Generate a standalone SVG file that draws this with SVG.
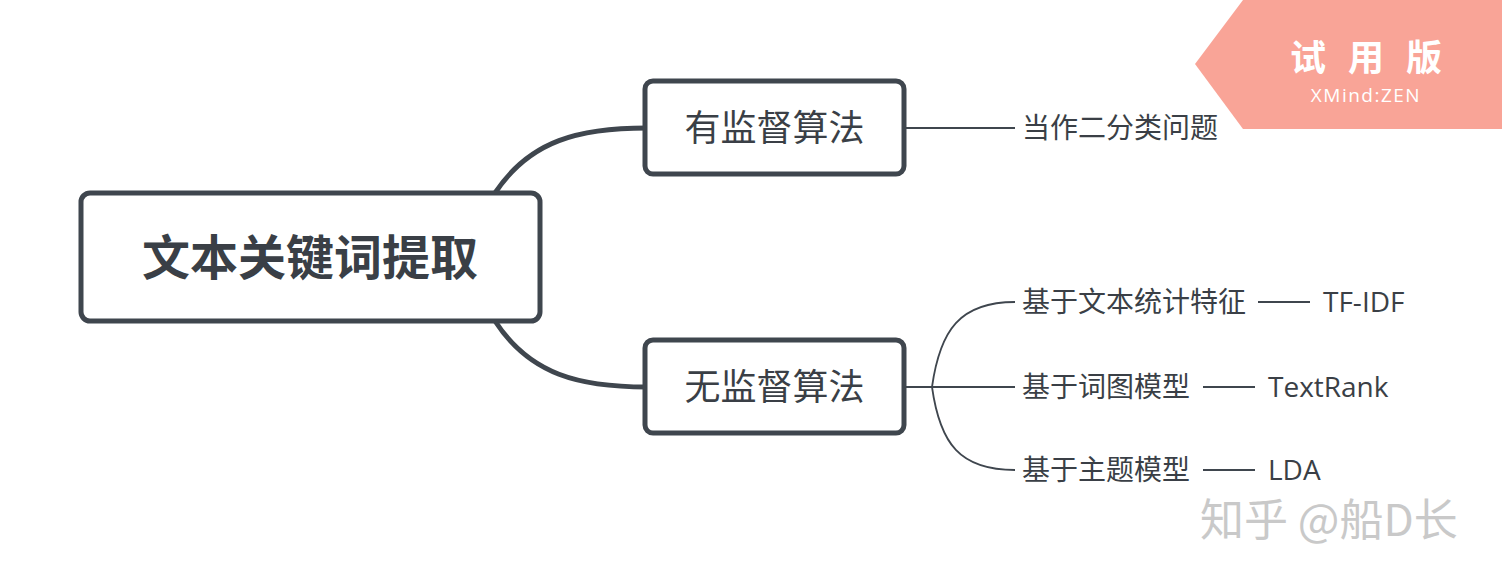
<svg xmlns="http://www.w3.org/2000/svg" width="1502" height="582" viewBox="0 0 1502 582">
<style>
.box{fill:#fff;stroke:#3f464e;stroke-width:5}
.t{font-family:"Noto Sans CJK SC","Noto Sans",sans-serif;fill:#3a3f46}
.lat{font-family:"Open Sans","Noto Sans CJK SC",sans-serif;fill:#3a3f46}
.thick{fill:none;stroke:#3f464e;stroke-width:5}
.thin{fill:none;stroke:#3f464e;stroke-width:1.8}
</style>
<rect width="1502" height="582" fill="#fff"/>
<g id="connectors">
<path class="thick" d="M495,193 C530,140 580,128 647,128"/>
<path class="thick" d="M495,321 C530,375 580,387 647,387"/>
<path class="thin" d="M904,128 L1015,128"/>
<path class="thin" d="M904,387 L1015,387"/>
<path class="thin" d="M932,387 C940,330 960,302 1015,302"/>
<path class="thin" d="M932,387 C940,444 960,470 1015,470"/>
<path class="thin" d="M1258,302 L1310,302"/>
<path class="thin" d="M1203,387 L1255,387"/>
<path class="thin" d="M1203,470 L1255,470"/>
</g>
<g id="root">
<rect class="box" x="81" y="193" width="459" height="128" rx="9"/>
<text class="t" x="310" y="275" font-size="48" font-weight="bold" text-anchor="middle">文本关键词提取</text>
</g>
<g id="supervised">
<rect class="box" x="645" y="81" width="259" height="93" rx="8"/>
<text class="t" x="774.5" y="141" font-size="36" text-anchor="middle">有监督算法</text>
</g>
<g id="unsupervised">
<rect class="box" x="645" y="340" width="259" height="93" rx="8"/>
<text class="t" x="774.5" y="400" font-size="36" text-anchor="middle">无监督算法</text>
</g>
<g id="binary">
<text class="t" x="1022" y="138" font-size="28">当作二分类问题</text>
</g>
<g id="stat">
<text class="t" x="1022" y="312" font-size="28">基于文本统计特征</text>
</g>
<g id="tfidf">
<text class="lat" x="1323" y="312" font-size="28">TF-IDF</text>
</g>
<g id="graph">
<text class="t" x="1022" y="397" font-size="28">基于词图模型</text>
</g>
<g id="textrank">
<text class="lat" x="1268" y="397" font-size="28">TextRank</text>
</g>
<g id="topic">
<text class="t" x="1022" y="480" font-size="28">基于主题模型</text>
</g>
<g id="lda">
<text class="lat" x="1268" y="480" font-size="28">LDA</text>
</g>
<g id="trial-banner">
<polygon points="1195,64 1243,0 1502,0 1502,129 1243,129" fill="#f9a497"/>
<text x="1290" y="71" font-family="Noto Sans CJK SC,sans-serif" font-size="36" font-weight="bold" fill="#fff" letter-spacing="22">试用版</text>
<text x="1366" y="102" font-family="Open Sans,sans-serif" font-size="19" fill="#fff" text-anchor="middle" letter-spacing="1.5">XMind:ZEN</text>
</g>
<g id="watermark">
<text x="1202" y="538" font-family="Noto Sans CJK SC,sans-serif" font-size="44" fill="#fff" stroke="#fff" stroke-width="1">知乎 @船D长</text>
<text x="1200" y="536" font-family="Noto Sans CJK SC,sans-serif" font-size="44" fill="#c9c9c9">知乎 @船D长</text>
</g>
</svg>
